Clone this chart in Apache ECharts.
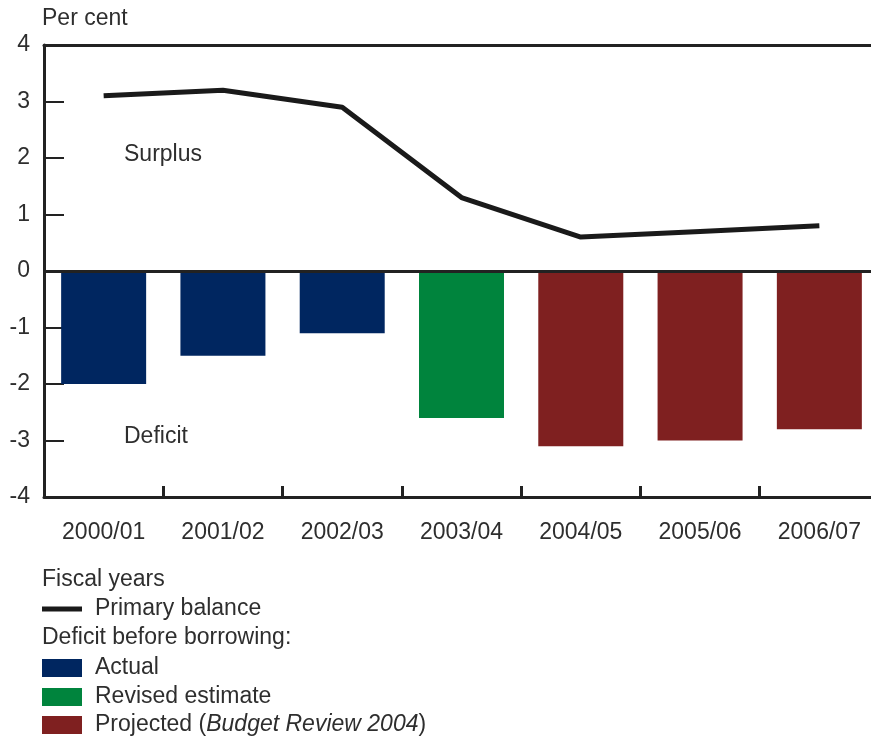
<!DOCTYPE html>
<html>
<head>
<meta charset="utf-8">
<script src="https://cdn.jsdelivr.net/npm/echarts@6/dist/echarts.min.js"></script>
<style>
html,body{margin:0;padding:0;background:#fff;}
#chart{width:871px;height:737px;}
</style>
</head>
<body>
<div id="chart"></div>
<script>
const categories = ['2000/01','2001/02','2002/03','2003/04','2004/05','2005/06','2006/07'];
const deficitValues = [-2.0, -1.5, -1.1, -2.6, -3.1, -3.0, -2.8];
const deficitStatus = ['Actual','Actual','Actual','Revised estimate','Projected','Projected','Projected'];
const primaryBalance = [3.1, 3.2, 2.9, 1.3, 0.6, 0.7, 0.8];
const yTicks = [-4, -3, -2, -1, 0, 1, 2, 3, 4];

const statusColors = {'Actual':'#002660','Revised estimate':'#00843D','Projected':'#7F2020'};
const FONT = 'Liberation Sans';
const FS = 23;
const TXT = '#2e2e2e';
const F = FS + 'px "' + FONT + '"';

const chart = echarts.init(document.getElementById('chart'));

const legendItems = [
  {y: 668, color: statusColors['Actual'], text: 'Actual'},
  {y: 697, color: statusColors['Revised estimate'], text: 'Revised estimate'},
];

function txt(x, cy, s) {
  return {type:'text', x:x, y:cy, style:{text:s, font:F, fill:TXT, verticalAlign:'middle', align:'left'}};
}

const graphics = [
  txt(42, 19, 'Per cent'),
  txt(124, 155, 'Surplus'),
  txt(124, 437, 'Deficit'),
  txt(42, 580, 'Fiscal years'),
  {type:'line', shape:{x1:42,y1:609,x2:82,y2:609}, style:{stroke:'#1a1a1a', lineWidth:5}},
  txt(95, 609, 'Primary balance'),
  txt(42, 638, 'Deficit before borrowing:'),
];
legendItems.forEach(it => {
  graphics.push({type:'rect', shape:{x:42,y:it.y-9,width:40,height:18}, style:{fill:it.color}});
  graphics.push(txt(95, it.y, it.text));
});
graphics.push({type:'rect', shape:{x:42,y:716,width:40,height:18}, style:{fill:statusColors['Projected']}});
graphics.push({type:'text', x:95, y:725, style:{
  text:'{n|Projected (}{i|Budget Review 2004}{n|)}',
  verticalAlign:'middle',
  rich:{
    n:{font:F, fill:TXT},
    i:{font:'italic ' + F, fill:TXT}
  }
}});

chart.setOption({
  animation:false,
  backgroundColor:'#fff',
  textStyle:{fontFamily:FONT},
  grid:{left:44, top:45, right:-8, bottom:240, containLabel:false, outerBoundsMode:'none'},
  xAxis:[{
    type:'category',
    data:categories,
    position:'bottom',
    boundaryGap:true,
    axisLine:{onZero:false, lineStyle:{color:'#222', width:3}},
    axisTick:{show:true, interval:0, inside:true, length:11, lineStyle:{color:'#222', width:3}},
    axisLabel:{color:TXT, fontSize:FS, margin:24, fontFamily:FONT, interval:0}
  },{
    type:'category',
    data:categories,
    position:'top',
    axisLine:{onZero:false, lineStyle:{color:'#222', width:3}},
    axisTick:{show:false},
    axisLabel:{show:false}
  }],
  yAxis:{
    type:'value',
    min:yTicks[0], max:yTicks[yTicks.length-1], interval:1,
    axisLine:{show:true, onZero:false, lineStyle:{color:'#222', width:3}},
    axisTick:{show:true, inside:true, length:20, lineStyle:{color:'#222', width:2}},
    axisLabel:{color:TXT, fontSize:FS, margin:14, fontFamily:FONT},
    splitLine:{show:false}
  },
  series:[{
    name:'Deficit before borrowing',
    type:'bar',
    barWidth:85,
    data:deficitValues.map((v,i)=>({value:v, itemStyle:{color:statusColors[deficitStatus[i]]}})),
    markLine:{
      silent:true, symbol:'none', label:{show:false},
      lineStyle:{color:'#222', width:3, type:'solid'},
      data:[{yAxis:0}]
    },
    z:2
  },{
    name:'Primary balance',
    type:'line',
    data:primaryBalance,
    symbol:'none',
    lineStyle:{color:'#1a1a1a', width:5},
    z:3
  }],
  graphic:graphics
});
</script>
</body>
</html>
